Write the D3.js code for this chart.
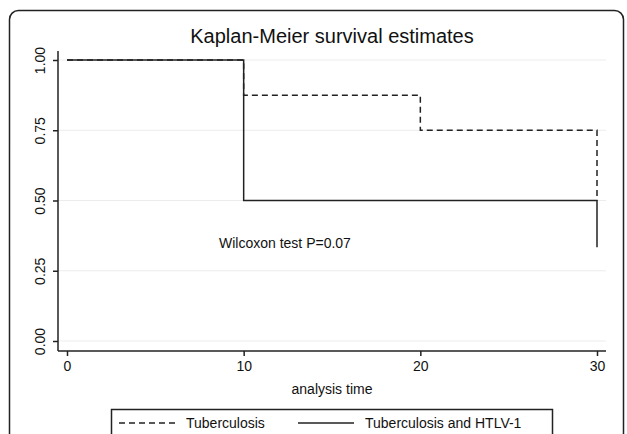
<!DOCTYPE html>
<html>
<head>
<meta charset="utf-8">
<script src="https://cdn.jsdelivr.net/npm/d3@7"></script>
<style>
  body { margin: 0; background: #fff; }
  text { font-family: "Liberation Sans", Arial, sans-serif; fill: #111; }
</style>
</head>
<body>
<div id="chart"></div>
<script>
// Kaplan-Meier step data
const tbTimes = [0, 10, 20, 30];
const tbSurv = [1, 0.875, 0.75, 0.5];
const htlvTimes = [0, 10, 30];
const htlvSurv = [1, 0.5, 1 / 3];
const htlvEnd = 30;
const tbEnd = 30;

const xTicks = [0, 10, 20, 30];
const yTicks = [0, 0.25, 0.5, 0.75, 1];
const seriesNames = ["Tuberculosis", "Tuberculosis and HTLV-1"];

const W = 627, H = 434;

const svg = d3.select("#chart")
    .append("svg")
    .attr("width", W)
    .attr("height", H);

// outer frame
svg.append("rect")
    .attr("x", 9.5).attr("y", 10.5)
    .attr("width", 614).attr("height", 440)
    .attr("rx", 9)
    .attr("fill", "none")
    .attr("stroke", "#222")
    .attr("stroke-width", 1.5);

const x = d3.scaleLinear().domain([0, 30]).range([67, 597]);
const y = d3.scaleLinear().domain([0, 1]).range([341, 60]);

const plotLeft = 58, plotRight = 606, plotTop = 51, plotBottom = 351;

// gridlines
svg.append("g")
    .selectAll("line")
    .data(yTicks)
    .enter()
    .append("line")
    .attr("x1", plotLeft).attr("x2", plotRight)
    .attr("y1", d => y(d)).attr("y2", d => y(d))
    .attr("stroke", "#ececec")
    .attr("stroke-width", 1);

// title
svg.append("text")
    .attr("x", 332).attr("y", 43)
    .attr("text-anchor", "middle")
    .style("font-size", "20px")
    .text("Kaplan-Meier survival estimates");

// axes lines
svg.append("line")
    .attr("x1", plotLeft).attr("x2", plotLeft)
    .attr("y1", plotTop).attr("y2", plotBottom)
    .attr("stroke", "#222").attr("stroke-width", 1.5);
svg.append("line")
    .attr("x1", plotLeft).attr("x2", plotRight)
    .attr("y1", plotBottom).attr("y2", plotBottom)
    .attr("stroke", "#222").attr("stroke-width", 1.5);

// x axis
const xAxis = svg.append("g")
    .attr("transform", `translate(0,${plotBottom})`)
    .call(d3.axisBottom(x).tickValues(xTicks).tickSize(5).tickSizeOuter(0).tickPadding(5));
xAxis.select(".domain").remove();
xAxis.selectAll("line").attr("stroke", "#222").attr("stroke-width", 1.5);
xAxis.selectAll("text").style("font-size", "14px").style("font-family", "Liberation Sans, Arial, sans-serif").attr("fill", "#111");

svg.append("text")
    .attr("x", 332).attr("y", 394)
    .attr("text-anchor", "middle")
    .style("font-size", "14px")
    .text("analysis time");

// y axis
const yAxis = svg.append("g")
    .attr("transform", `translate(${plotLeft},0)`)
    .call(d3.axisLeft(y).tickValues(yTicks).tickFormat(d3.format(".2f")).tickSize(5).tickSizeOuter(0));
yAxis.select(".domain").remove();
yAxis.selectAll("line").attr("stroke", "#222").attr("stroke-width", 1.5);
yAxis.selectAll("text")
    .style("font-size", "14px")
    .style("font-family", "Liberation Sans, Arial, sans-serif")
    .attr("fill", "#111")
    .attr("x", null).attr("dy", null)
    .attr("text-anchor", "middle")
    .attr("transform", "translate(-13,0) rotate(-90)")
    .attr("y", 0);

// step curves
function stepPoints(times, surv, end) {
    const pts = [];
    times.forEach((t, i) => {
        if (i > 0) pts.push([t, surv[i - 1]]);
        pts.push([t, surv[i]]);
    });
    pts.push([end, surv[surv.length - 1]]);
    return pts;
}

const line = d3.line().x(d => x(d[0])).y(d => y(d[1]));

svg.append("path")
    .datum(stepPoints(tbTimes, tbSurv, tbEnd))
    .attr("d", line)
    .attr("fill", "none")
    .attr("stroke", "#222")
    .attr("stroke-width", 1.5)
    .attr("stroke-dasharray", "6,4");

svg.append("path")
    .datum(stepPoints(htlvTimes, htlvSurv, htlvEnd))
    .attr("d", line)
    .attr("fill", "none")
    .attr("stroke", "#222")
    .attr("stroke-width", 1.5);

// annotation
svg.append("text")
    .attr("x", 219).attr("y", 248)
    .style("font-size", "14px")
    .text("Wilcoxon test P=0.07");

// legend
svg.append("rect")
    .attr("x", 111.5).attr("y", 409.5)
    .attr("width", 441).attr("height", 40)
    .attr("fill", "none")
    .attr("stroke", "#222")
    .attr("stroke-width", 1.5);

const legendItems = [
    { name: seriesNames[0], x1: 119, x2: 177, tx: 186, dash: "6,4" },
    { name: seriesNames[1], x1: 298, x2: 354, tx: 365, dash: null }
];

const lg = svg.selectAll(".legend")
    .data(legendItems)
    .enter()
    .append("g");

lg.append("line")
    .attr("x1", d => d.x1).attr("x2", d => d.x2)
    .attr("y1", 423).attr("y2", 423)
    .attr("stroke", "#222")
    .attr("stroke-width", 1.5)
    .attr("stroke-dasharray", d => d.dash);

lg.append("text")
    .attr("x", d => d.tx).attr("y", 428)
    .style("font-size", "14px")
    .text(d => d.name);
</script>
</body>
</html>
